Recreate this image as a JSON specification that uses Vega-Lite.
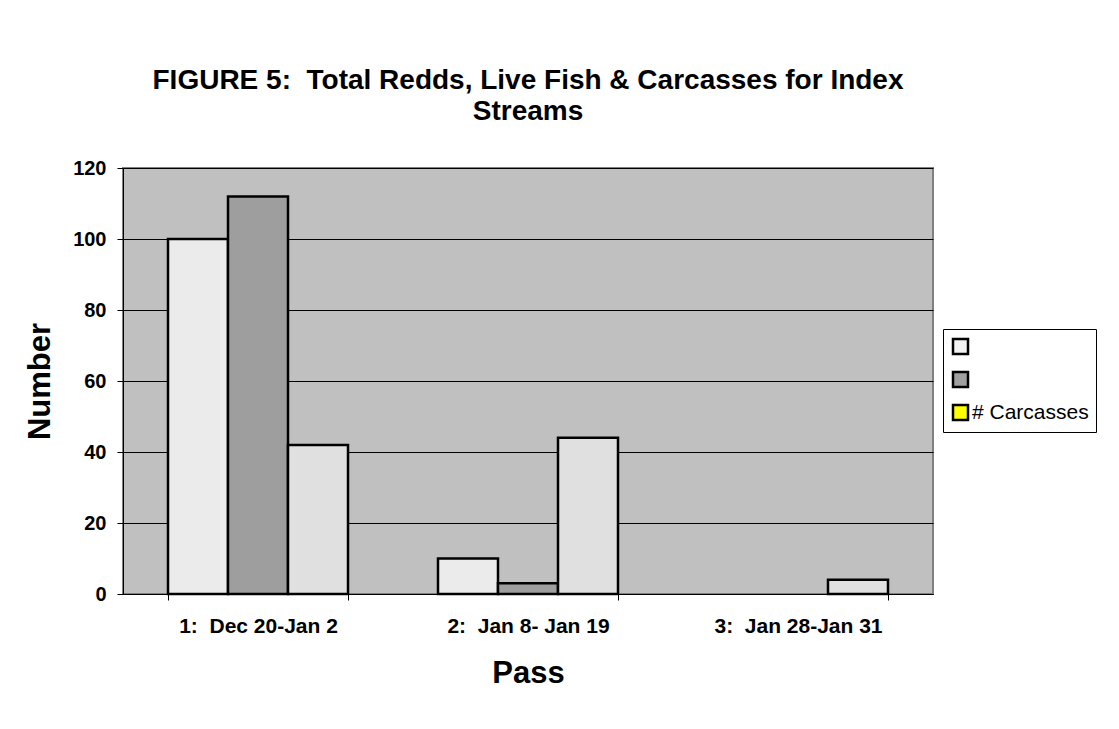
{
  "$schema": "https://vega.github.io/schema/vega-lite/v6.json",
  "width": 810,
  "height": 426,
  "autosize": "none",
  "padding": {"left": 123, "top": 168, "right": 186, "bottom": 135},
  "background": "white",
  "title": {
    "text": ["FIGURE 5:\u00a0 Total Redds, Live Fish & Carcasses for Index", "Streams"],
    "font": "Liberation Sans",
    "fontSize": 28,
    "fontWeight": "bold",
    "color": "black",
    "anchor": "middle",
    "lineHeight": 31,
    "offset": 32
  },
  "data": {
    "values": [
      {"pass": "1:\u00a0 Dec 20-Jan 2", "series": "# Redds", "count": 100},
      {"pass": "1:\u00a0 Dec 20-Jan 2", "series": "# Live Fish", "count": 112},
      {"pass": "1:\u00a0 Dec 20-Jan 2", "series": "# Carcasses", "count": 42},
      {"pass": "2:\u00a0 Jan 8- Jan 19", "series": "# Redds", "count": 10},
      {"pass": "2:\u00a0 Jan 8- Jan 19", "series": "# Live Fish", "count": 3},
      {"pass": "2:\u00a0 Jan 8- Jan 19", "series": "# Carcasses", "count": 44},
      {"pass": "3:\u00a0 Jan 28-Jan 31", "series": "# Carcasses", "count": 4}
    ]
  },
  "encoding": {
    "x": {
      "field": "pass",
      "type": "nominal",
      "sort": ["1:\u00a0 Dec 20-Jan 2", "2:\u00a0 Jan 8- Jan 19", "3:\u00a0 Jan 28-Jan 31"],
      "scale": {"paddingInner": 0.33333, "paddingOuter": 0.16667},
      "title": "Pass",
      "axis": {
        "labelAngle": 0,
        "labelFont": "Liberation Sans",
        "labelFontSize": 21,
        "labelFontWeight": "bold",
        "labelColor": "black",
        "labelPadding": 15,
        "tickBand": "extent",
        "tickSize": 6,
        "tickColor": "black",
        "domainColor": "black",
        "titleFont": "Liberation Sans",
        "titleFontSize": 31,
        "titleFontWeight": "bold",
        "titleColor": "black",
        "titlePadding": 22
      }
    },
    "xOffset": {"field": "series", "type": "nominal", "sort": ["# Redds", "# Live Fish", "# Carcasses"]},
    "y": {
      "field": "count",
      "type": "quantitative",
      "scale": {"domain": [0, 120]},
      "title": "Number",
      "axis": {
        "values": [0, 20, 40, 60, 80, 100, 120],
        "grid": true,
        "gridColor": "black",
        "gridOpacity": 1,
        "gridWidth": 1,
        "labelFont": "Liberation Sans",
        "labelFontSize": 20,
        "labelFontWeight": "bold",
        "labelColor": "black",
        "labelPadding": 11,
        "tickSize": 6,
        "tickColor": "black",
        "domainColor": "black",
        "titleFont": "Liberation Sans",
        "titleFontSize": 31,
        "titleFontWeight": "bold",
        "titleColor": "black",
        "titlePadding": 16
      }
    }
  },
  "layer": [
    {
      "mark": {"type": "bar", "stroke": "black", "strokeWidth": 2.5},
      "encoding": {
        "color": {
          "field": "series",
          "type": "nominal",
          "sort": ["# Redds", "# Live Fish", "# Carcasses"],
          "scale": {"domain": ["# Redds", "# Live Fish", "# Carcasses"], "range": ["#ebebeb", "#9e9e9e", "#e0e0e0"]},
          "legend": null
        }
      }
    },
    {
      "mark": {"type": "point", "shape": "square", "filled": true, "opacity": 0},
      "encoding": {
        "color": {
          "field": "series",
          "type": "nominal",
          "sort": ["# Redds", "# Live Fish", "# Carcasses"],
          "scale": {"domain": ["# Redds", "# Live Fish", "# Carcasses"], "range": ["#f2f2f2", "#a0a0a0", "#ffff00"]},
          "legend": {
            "title": null,
            "orient": "none",
            "legendX": 820,
            "legendY": 161,
            "labelExpr": "datum.label == '# Carcasses' ? datum.label : ''",
            "symbolType": "square",
            "symbolSize": 225,
            "symbolOpacity": 1,
            "symbolStrokeColor": "black",
            "symbolStrokeWidth": 2.5,
            "labelFont": "Liberation Sans",
            "labelFontSize": 21,
            "labelColor": "black",
            "labelOffset": 1,
            "rowPadding": 8,
            "padding": 7,
            "strokeColor": "black",
            "fillColor": "white"
          }
        }
      }
    }
  ],
  "resolve": {"scale": {"color": "independent"}, "legend": {"color": "independent"}},
  "config": {
    "view": {"fill": "#c0c0c0", "stroke": "#808080", "strokeWidth": 2}
  }
}
